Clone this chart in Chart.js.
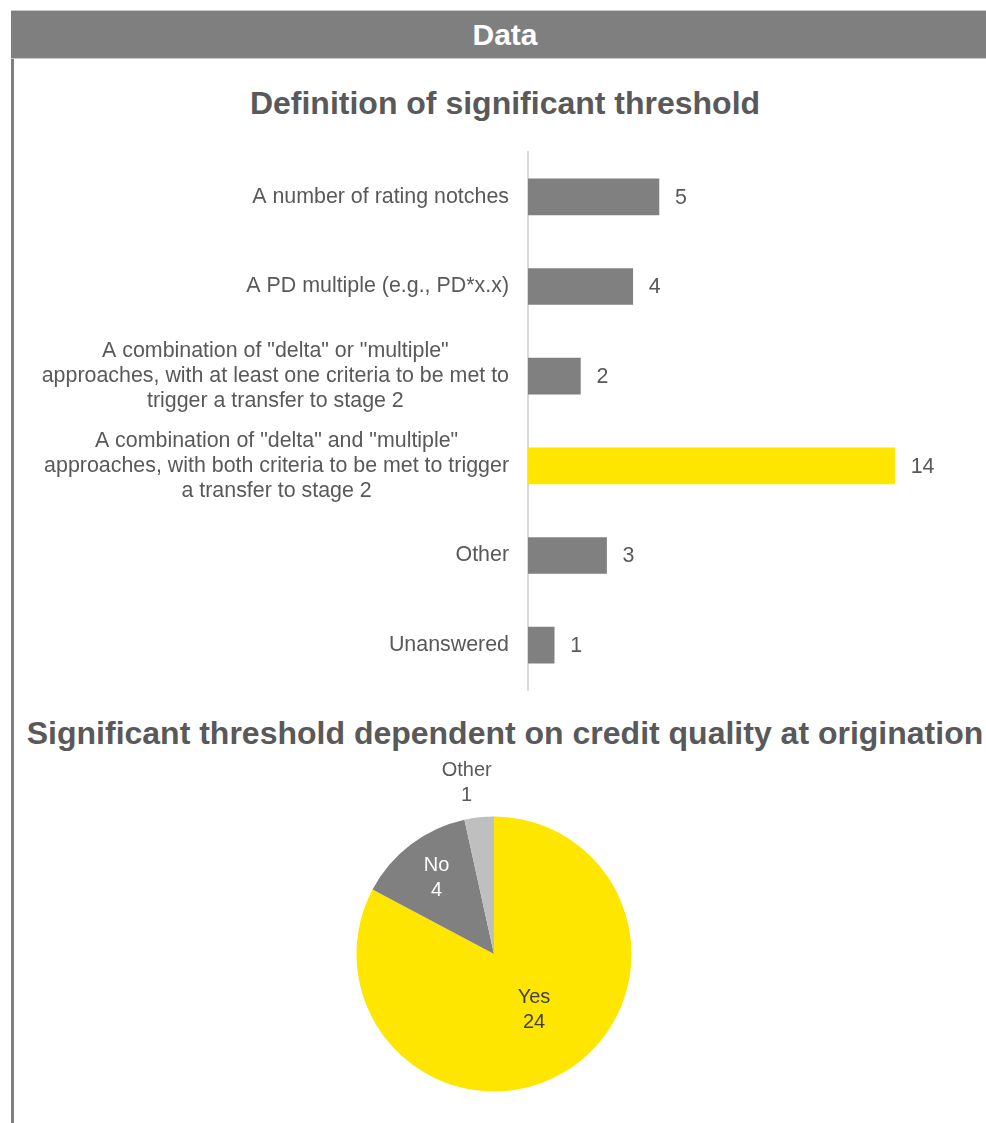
<!DOCTYPE html>
<html lang="en">
<head>
    <meta charset="UTF-8">
    <title>Data</title>
    <script src="https://cdn.jsdelivr.net/npm/chart.js"></script>
    <style>
        html, body {
            margin: 0;
            padding: 0;
            width: 986px;
            height: 1123px;
            overflow: hidden;
            background: #fff;
            font-family: "Liberation Sans", Arial, sans-serif;
        }
        .frame {
            position: absolute;
            left: 11px;
            top: 10px;
            width: 3px;
            height: 1113px;
            background: #7f7f7f;
        }
        .header {
            position: absolute;
            left: 11px;
            top: 10px;
            width: 988px;
            height: 47px;
            background: #7f7f7f;
            border-top: 1px solid #c8c8c8;
            border-bottom: 1px solid #c8c8c8;
            color: #fff;
            font-weight: bold;
            font-size: 30px;
            line-height: 47px;
            text-align: center;
        }
        .title {
            position: absolute;
            left: 11px;
            width: 988px;
            text-align: center;
            color: #595959;
            font-weight: bold;
            font-size: 32px;
            line-height: 40px;
            white-space: nowrap;
        }
        #barBox {
            position: absolute;
            left: 0;
            top: 140px;
            width: 986px;
            height: 560px;
        }
        #pieBox {
            position: absolute;
            left: 294px;
            top: 744px;
            width: 400px;
            height: 420px;
        }
    </style>
</head>
<body>
    <div class="frame"></div>
    <div class="header">Data</div>
    <div class="title" style="top: 83px;">Definition of significant threshold</div>
    <div class="title" style="top: 713px;">Significant threshold dependent on credit quality at origination</div>
    <div id="barBox"><canvas id="barChart"></canvas></div>
    <div id="pieBox"><canvas id="pieChart"></canvas></div>

    <script>
        // threshold definitions
        const thresholdLabels = [
            ['A number of rating notches'],
            ['A PD multiple (e.g., PD*x.x)'],
            ['A combination of "delta" or "multiple"', 'approaches, with at least one criteria to be met to', 'trigger a transfer to stage 2'],
            ['A combination of "delta" and "multiple"', 'approaches, with both criteria to be met to trigger', 'a transfer to stage 2'],
            ['Other'],
            ['Unanswered']
        ];
        const thresholdCounts = [5, 4, 2, 14, 3, 1];

        // dependence on credit quality at origination
        const originLabels = ['Yes', 'No', 'Other'];
        const originCounts = [24, 4, 1];

        const GREY = '#808080';
        const YELLOW = '#ffe600';
        const TEXT = '#595959';
        const FONT = '"Liberation Sans", Arial, sans-serif';

        const barColors = thresholdCounts.map((v, i) => i === 3 ? YELLOW : GREY);

        // category names centred per block, block right-aligned against the axis
        const categoryText = {
            id: 'categoryText',
            afterDraw(chart) {
                const ctx = chart.ctx;
                const yScale = chart.scales.y;
                const right = chart.chartArea.left - 19;
                ctx.save();
                ctx.font = '21.4px ' + FONT;
                ctx.fillStyle = TEXT;
                ctx.textAlign = 'center';
                ctx.textBaseline = 'middle';
                thresholdLabels.forEach((lines, i) => {
                    const y = yScale.getPixelForValue(i);
                    const widest = Math.max(...lines.map(l => ctx.measureText(l).width));
                    const cx = right - widest / 2;
                    lines.forEach((line, j) => {
                        ctx.fillText(line, cx, y + (j - (lines.length - 1) / 2) * 25);
                    });
                });
                ctx.restore();
            }
        };

        const barValues = {
            id: 'barValues',
            afterDatasetsDraw(chart) {
                const ctx = chart.ctx;
                const xScale = chart.scales.x;
                const yScale = chart.scales.y;
                ctx.save();
                ctx.font = '21.4px ' + FONT;
                ctx.fillStyle = TEXT;
                ctx.textAlign = 'left';
                ctx.textBaseline = 'middle';
                thresholdCounts.forEach((v, i) => {
                    ctx.fillText(String(v), xScale.getPixelForValue(v) + 16, yScale.getPixelForValue(i) + 1);
                });
                ctx.restore();
            }
        };

        new Chart(document.getElementById('barChart'), {
            type: 'bar',
            data: {
                labels: thresholdLabels,
                datasets: [{
                    data: thresholdCounts,
                    backgroundColor: barColors,
                    borderWidth: 0,
                    barThickness: 36
                }]
            },
            options: {
                indexAxis: 'y',
                responsive: true,
                maintainAspectRatio: false,
                animation: false,
                layout: { padding: { left: 528, right: 39, top: 12, bottom: 10 } },
                plugins: { legend: { display: false }, tooltip: { enabled: false } },
                scales: {
                    x: { display: false, min: 0, max: 16 },
                    y: {
                        grid: { display: false, drawTicks: false },
                        ticks: { display: false },
                        border: { display: true, color: '#d9d9d9', width: 2 },
                        afterFit: s => { s.width = 0; }
                    }
                }
            },
            plugins: [categoryText, barValues]
        });

        // label placement along each slice's middle angle (fraction of radius, angle nudge in rad)
        const pieLabelStyle = [
            { dist: 0.5, nudge: -0.08, color: '#404040' },
            { dist: 0.69, nudge: 0, color: '#ffffff' },
            { dist: 1.26, nudge: -0.05, color: TEXT }
        ];

        const pieText = {
            id: 'pieText',
            afterDatasetsDraw(chart) {
                const ctx = chart.ctx;
                const meta = chart.getDatasetMeta(0);
                ctx.save();
                ctx.font = '20px ' + FONT;
                ctx.textAlign = 'center';
                ctx.textBaseline = 'middle';
                meta.data.forEach((arc, i) => {
                    const p = arc.getProps(['x', 'y', 'startAngle', 'endAngle', 'outerRadius'], true);
                    const mid = (p.startAngle + p.endAngle) / 2 + pieLabelStyle[i].nudge;
                    const r = p.outerRadius * pieLabelStyle[i].dist;
                    const x = p.x + Math.cos(mid) * r;
                    const y = p.y + Math.sin(mid) * r;
                    ctx.fillStyle = pieLabelStyle[i].color;
                    ctx.fillText(originLabels[i], x, y - 12.5);
                    ctx.fillText(String(originCounts[i]), x, y + 12.5);
                });
                ctx.restore();
            }
        };

        new Chart(document.getElementById('pieChart'), {
            type: 'pie',
            data: {
                labels: originLabels,
                datasets: [{
                    data: originCounts,
                    backgroundColor: [YELLOW, GREY, '#bfbfbf'],
                    borderWidth: 0,
                    radius: 137.5
                }]
            },
            options: {
                responsive: true,
                maintainAspectRatio: false,
                animation: false,
                plugins: { legend: { display: false }, tooltip: { enabled: false } }
            },
            plugins: [pieText]
        });
    </script>
</body>
</html>
